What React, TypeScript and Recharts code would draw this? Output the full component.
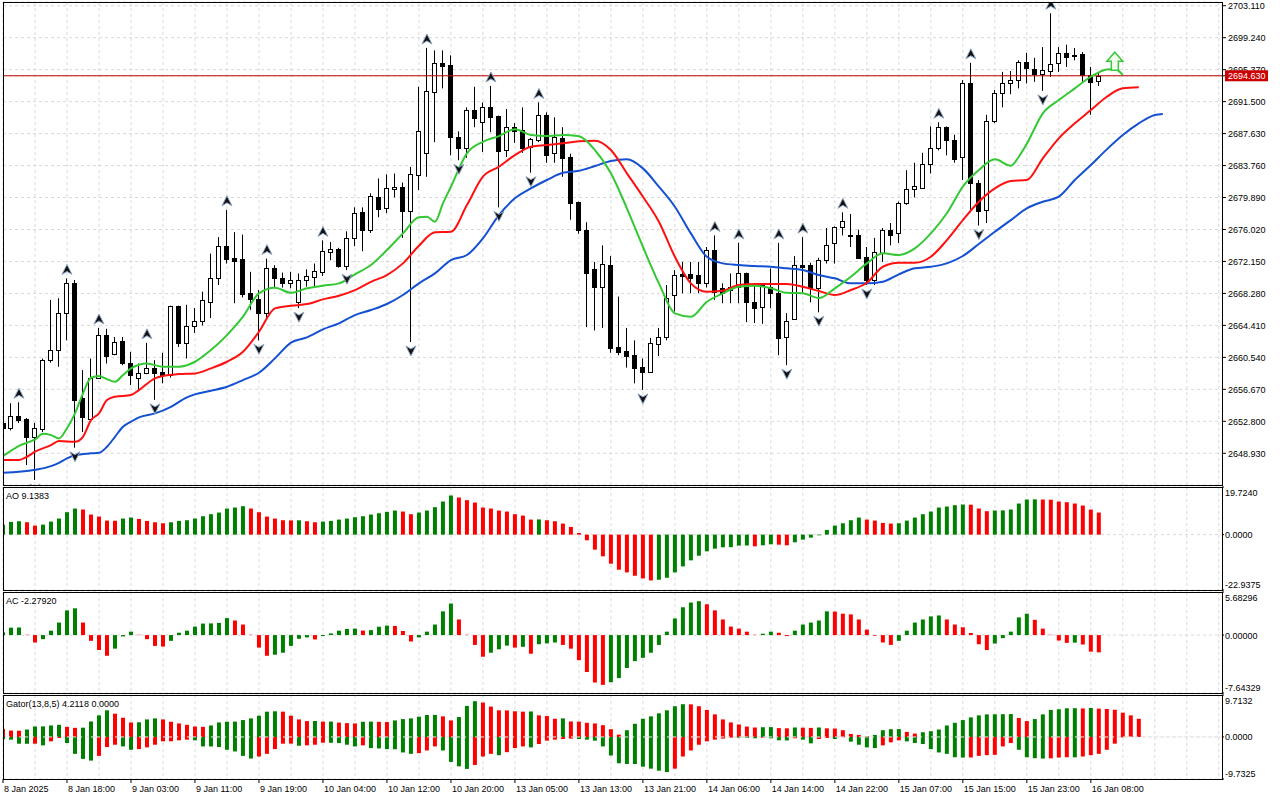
import React from "react";
import {
  ComposedChart,
  Bar,
  Line,
  Scatter,
  XAxis,
  YAxis,
  CartesianGrid,
  ReferenceLine,
  Cell,
} from "recharts";

// ---- price data (XAUUSD H1, 8 Jan 10:00 .. 16 Jan 09:00) ----
const OPEN = [
  2652.6, 2652.0, 2653.4, 2653.1, 2650.9, 2651.9, 2660.2, 2661.4, 2665.9, 2669.5,
  2655.6, 2653.1, 2658.1, 2663.3, 2660.9, 2662.5, 2659.8, 2658.1, 2658.6, 2659.2,
  2658.8, 2658.4, 2666.7, 2662.3, 2664.3, 2664.9, 2667.2, 2670.1, 2674.0, 2672.6,
  2672.4, 2668.3, 2667.6, 2665.9, 2671.3, 2670.1, 2669.5, 2667.2, 2669.9, 2670.3,
  2670.9, 2673.3, 2673.6, 2671.6, 2675.0, 2678.1, 2675.9, 2680.0, 2678.6, 2680.9,
  2681.2, 2678.2, 2682.6, 2685.3, 2692.7, 2696.2, 2695.9, 2687.2, 2685.9, 2690.5,
  2689.0, 2690.8, 2689.7, 2685.6, 2688.4, 2688.1, 2686.0, 2686.8, 2689.9, 2685.3,
  2687.1, 2684.8, 2679.3, 2675.9, 2671.2, 2669.0, 2671.7, 2661.8, 2661.3, 2660.8,
  2659.4, 2658.8, 2662.2, 2663.0, 2668.1, 2670.6, 2670.6, 2670.5, 2669.5, 2673.5,
  2668.9, 2669.0, 2669.1, 2670.7, 2667.2, 2666.6, 2669.1, 2668.3, 2663.0, 2665.2,
  2671.7, 2671.7, 2668.9, 2672.3, 2674.4, 2676.3, 2675.4, 2675.4, 2672.7, 2669.9,
  2673.2, 2675.9, 2675.6, 2679.2, 2680.9, 2681.1, 2683.9, 2685.9, 2688.4, 2686.8,
  2684.8, 2693.7, 2681.7, 2678.4, 2689.2, 2692.6, 2693.7, 2694.1, 2696.3, 2695.4,
  2694.9, 2695.2, 2696.2, 2697.4, 2697.0, 2697.3, 2694.7, 2694.0,
];
const HIGH = [
  2653.0, 2655.0, 2655.1, 2653.2, 2652.6, 2660.4, 2667.5, 2667.7, 2670.1, 2669.9,
  2659.0, 2660.4, 2664.1, 2664.0, 2663.0, 2663.0, 2661.2, 2659.8, 2662.3, 2660.2,
  2661.1, 2666.8, 2666.8, 2666.9, 2666.5, 2668.5, 2673.1, 2675.1, 2678.4, 2675.7,
  2675.4, 2670.9, 2668.7, 2672.5, 2671.7, 2670.8, 2670.9, 2670.7, 2671.2, 2671.9,
  2674.7, 2674.5, 2673.8, 2675.8, 2678.7, 2678.7, 2680.4, 2682.2, 2682.7, 2682.8,
  2681.7, 2683.6, 2693.3, 2698.0, 2697.7, 2697.7, 2697.1, 2687.9, 2690.8, 2693.3,
  2691.4, 2693.4, 2689.8, 2690.6, 2688.9, 2690.8, 2687.1, 2691.4, 2690.2, 2689.6,
  2688.4, 2685.2, 2679.4, 2676.9, 2672.1, 2674.1, 2672.8, 2667.9, 2664.1, 2662.6,
  2660.4, 2662.9, 2664.1, 2669.3, 2671.1, 2672.1, 2672.1, 2672.1, 2673.9, 2675.3,
  2669.5, 2670.7, 2674.4, 2670.8, 2669.5, 2669.5, 2671.3, 2674.4, 2665.9, 2672.8,
  2675.1, 2672.0, 2672.6, 2676.2, 2676.4, 2678.1, 2677.9, 2676.0, 2673.9, 2675.0,
  2676.2, 2676.8, 2679.4, 2683.2, 2684.1, 2685.3, 2688.5, 2689.0, 2688.5, 2687.5,
  2694.1, 2696.2, 2682.0, 2689.9, 2692.9, 2695.1, 2695.2, 2696.5, 2697.4, 2696.8,
  2698.1, 2702.2, 2698.1, 2698.4, 2698.0, 2697.5, 2695.7, 2695.1,
];
const LOW = [
  2651.5, 2651.7, 2652.6, 2647.5, 2645.7, 2651.5, 2659.9, 2659.4, 2662.6, 2649.6,
  2651.5, 2653.0, 2658.0, 2659.8, 2660.8, 2659.6, 2657.2, 2656.6, 2658.5, 2655.4,
  2657.4, 2658.1, 2661.8, 2660.4, 2663.5, 2664.4, 2665.3, 2669.3, 2671.9, 2667.1,
  2667.8, 2666.3, 2662.6, 2665.3, 2669.0, 2669.0, 2668.9, 2666.5, 2669.1, 2669.0,
  2670.4, 2672.3, 2671.4, 2671.1, 2674.0, 2673.4, 2675.6, 2677.5, 2678.0, 2679.9,
  2675.0, 2662.4, 2680.8, 2682.4, 2686.6, 2693.1, 2685.0, 2684.4, 2684.7, 2688.4,
  2685.4, 2687.8, 2678.7, 2684.8, 2686.5, 2685.3, 2682.9, 2686.6, 2684.1, 2684.1,
  2682.4, 2677.2, 2675.5, 2664.2, 2663.8, 2664.1, 2661.1, 2660.8, 2659.3, 2657.4,
  2656.6, 2658.7, 2660.7, 2662.6, 2666.1, 2668.3, 2668.3, 2668.3, 2669.0, 2667.5,
  2667.1, 2667.1, 2667.1, 2664.8, 2664.7, 2664.6, 2666.5, 2660.8, 2659.6, 2665.1,
  2668.4, 2667.2, 2666.0, 2671.9, 2671.9, 2675.3, 2673.9, 2672.5, 2669.3, 2669.3,
  2672.1, 2674.1, 2674.4, 2679.0, 2679.9, 2681.0, 2682.8, 2685.6, 2685.0, 2684.1,
  2682.0, 2678.1, 2676.5, 2676.8, 2688.9, 2690.8, 2692.4, 2693.1, 2693.7, 2693.9,
  2692.8, 2694.5, 2695.1, 2695.7, 2696.5, 2693.9, 2689.9, 2693.4,
];
const CLOSE = [
  2652.0, 2653.5, 2653.0, 2650.9, 2652.0, 2660.2, 2661.4, 2665.9, 2669.5, 2655.4,
  2653.3, 2658.1, 2663.2, 2660.7, 2662.4, 2659.8, 2658.4, 2658.7, 2659.2, 2658.7,
  2658.4, 2666.7, 2662.3, 2664.3, 2664.9, 2667.5, 2670.1, 2674.0, 2672.5, 2672.2,
  2668.2, 2667.6, 2665.9, 2671.3, 2670.1, 2669.5, 2669.9, 2669.9, 2670.4, 2671.0,
  2673.4, 2673.6, 2671.6, 2675.0, 2678.0, 2675.9, 2680.1, 2678.5, 2681.0, 2681.2,
  2678.2, 2682.7, 2688.0, 2692.8, 2696.2, 2695.8, 2687.2, 2685.9, 2690.5, 2689.5,
  2690.8, 2689.6, 2685.5, 2688.4, 2688.0, 2685.9, 2687.0, 2689.9, 2685.0, 2687.2,
  2684.7, 2679.2, 2675.9, 2670.8, 2669.0, 2671.8, 2661.7, 2661.2, 2660.7, 2659.2,
  2658.8, 2662.3, 2663.0, 2667.7, 2670.5, 2670.4, 2670.2, 2669.5, 2673.5, 2668.4,
  2668.3, 2668.7, 2670.7, 2667.2, 2666.5, 2669.3, 2668.3, 2662.9, 2665.0, 2671.7,
  2671.5, 2668.9, 2672.3, 2674.2, 2676.3, 2677.0, 2675.3, 2672.6, 2669.9, 2673.3,
  2675.9, 2675.3, 2679.2, 2680.9, 2681.3, 2683.9, 2685.9, 2688.4, 2686.9, 2684.5,
  2693.7, 2681.7, 2678.2, 2689.2, 2692.5, 2693.7, 2694.1, 2696.3, 2695.6, 2694.9,
  2695.3, 2696.1, 2697.4, 2696.9, 2697.2, 2694.7, 2693.9, 2694.63,
];

// Alligator lines: [bar, price]
const JAW: [number, number][] = [
  [0, 2646.57], [4, 2646.93], [6, 2647.38], [7, 2647.78], [8, 2648.31], [9, 2648.71],
  [11, 2648.92], [12, 2648.99], [13, 2649.72], [14, 2650.93], [15, 2652.14], [16, 2652.75],
  [17, 2653.28], [19, 2653.76], [21, 2654.56], [23, 2655.7], [24, 2656.06], [26, 2656.5],
  [28, 2656.98], [30, 2657.79], [32, 2658.68], [34, 2660.42], [36, 2662.33], [38, 2662.96],
  [40, 2663.93], [42, 2664.66], [44, 2665.66], [46, 2666.27], [48, 2667.0], [50, 2668.09],
  [52, 2669.5], [54, 2670.71], [56, 2672.32], [58, 2672.93], [60, 2674.95], [62, 2677.77],
  [64, 2679.79], [66, 2681.0], [68, 2682.01], [70, 2682.89], [72, 2683.12], [74, 2683.7],
  [76, 2684.31], [78, 2684.51], [80, 2683.42], [82, 2681.2], [84, 2678.78], [86, 2675.55],
  [88, 2672.72], [90, 2671.92], [92, 2671.72], [94, 2671.6], [96, 2671.51], [98, 2671.32],
  [100, 2671.11], [102, 2670.51], [104, 2670.11], [106, 2669.5], [108, 2669.5], [110, 2669.69],
  [112, 2670.59], [114, 2671.32], [116, 2671.51], [118, 2671.92], [120, 2672.81], [122, 2674.26],
  [124, 2675.75], [126, 2677.16], [128, 2678.58], [130, 2679.38], [132, 2679.99], [134, 2682.01],
  [136, 2683.82], [138, 2685.72], [140, 2687.46], [142, 2688.87], [144, 2689.88], [145, 2690.0],
];
const TEETH: [number, number][] = [
  [0, 2648.11], [2, 2648.11], [3, 2648.51], [4, 2649.12], [6, 2649.92], [7, 2650.41],
  [9, 2650.32], [10, 2650.93], [11, 2652.95], [12, 2653.76], [13, 2655.37], [14, 2655.77],
  [16, 2655.98], [17, 2656.58], [19, 2658.0], [20, 2658.28], [22, 2658.52], [24, 2658.6],
  [26, 2659.21], [28, 2660.01], [30, 2661.22], [32, 2663.64], [34, 2666.47], [36, 2666.79],
  [38, 2666.99], [40, 2667.56], [42, 2668.0], [44, 2668.69], [46, 2669.69], [48, 2670.51],
  [50, 2671.92], [52, 2674.05], [54, 2675.68], [56, 2675.75], [58, 2678.98], [60, 2682.41],
  [62, 2683.62], [64, 2685.03], [66, 2686.04], [68, 2686.24], [70, 2686.45], [72, 2686.69],
  [74, 2686.77], [76, 2685.64], [78, 2682.82], [80, 2679.99], [82, 2676.96], [84, 2672.72],
  [86, 2669.5], [88, 2668.48], [90, 2668.61], [92, 2669.3], [94, 2669.42], [96, 2669.42],
  [98, 2669.42], [100, 2669.09], [102, 2668.57], [104, 2668.08], [106, 2668.69], [108, 2669.57],
  [110, 2671.51], [112, 2671.99], [114, 2671.99], [116, 2672.72], [118, 2674.74], [120, 2677.16],
  [122, 2679.38], [124, 2681.0], [126, 2681.89], [128, 2682.01], [130, 2684.63], [132, 2687.06],
  [134, 2688.87], [136, 2690.48], [138, 2692.09], [140, 2693.11], [142, 2693.23],
];
const LIPS: [number, number][] = [
  [0, 2648.59], [2, 2649.84], [4, 2650.61], [5, 2651.29], [6, 2651.13], [7, 2650.73],
  [8, 2651.95], [9, 2653.76], [10, 2656.18], [11, 2658.07], [12, 2658.28], [13, 2657.91],
  [14, 2657.59], [15, 2658.4], [16, 2659.21], [18, 2659.81], [20, 2659.4], [22, 2659.4],
  [24, 2660.01], [26, 2661.43], [28, 2663.24], [30, 2665.46], [32, 2668.29], [34, 2668.97],
  [36, 2668.36], [38, 2668.9], [40, 2669.21], [42, 2669.5], [44, 2670.59], [46, 2671.72],
  [48, 2673.53], [50, 2675.55], [52, 2677.49], [53, 2677.56], [54, 2676.96], [55, 2679.19],
  [56, 2681.2], [58, 2685.24], [60, 2686.64], [62, 2687.33], [64, 2688.15], [66, 2687.46],
  [68, 2687.33], [70, 2687.46], [72, 2687.3], [74, 2685.64], [76, 2682.82], [78, 2678.58],
  [80, 2673.93], [82, 2669.5], [84, 2665.87], [86, 2665.46], [88, 2667.27], [90, 2668.29],
  [92, 2669.09], [94, 2669.21], [96, 2668.9], [98, 2668.36], [100, 2668.29], [102, 2667.72],
  [104, 2668.9], [106, 2670.3], [108, 2671.92], [110, 2673.13], [112, 2672.93], [114, 2673.74],
  [116, 2675.55], [118, 2677.98], [120, 2681.2], [122, 2683.22], [124, 2684.51], [126, 2683.74],
  [127, 2684.83], [128, 2686.4], [130, 2690.08], [132, 2691.69], [134, 2693.11], [136, 2694.51],
  [138, 2695.4], [139, 2695.45], [140, 2694.73],
];

const FRACTAL_UP_BARS = [2, 8, 12, 18, 28, 33, 40, 53, 61, 67, 89, 92, 97, 100, 105, 117, 121, 131];
const FRACTAL_DOWN_BARS = [4, 9, 19, 32, 37, 43, 51, 57, 62, 66, 80, 98, 102, 108, 122, 130];
const SIGNAL = { bar: 139, price: 2695.3 };

// ---- oscillators ----
const AO = [
  4.16, 5.26, 5.54, 5.12, 3.74, 4.16, 5.4, 6.65, 9.28, 10.8,
  10.39, 8.31, 7.48, 5.82, 5.75, 6.65, 7.06, 6.51, 5.68, 5.12,
  4.71, 5.12, 5.68, 5.96, 6.65, 7.62, 8.45, 9.14, 10.8, 11.22,
  11.77, 10.8, 9.28, 7.48, 6.65, 5.96, 5.89, 5.93, 5.54, 5.12,
  5.4, 5.68, 6.23, 6.65, 7.2, 7.62, 8.31, 8.86, 9.42, 9.97,
  9.56, 8.45, 9.14, 9.97, 11.36, 13.71, 16.2, 15.37, 14.27, 13.3,
  11.22, 10.8, 9.97, 9.56, 8.45, 7.89, 6.23, 6.3, 5.96, 5.54,
  4.57, 3.19, 0.69, -2.35, -6.23, -9.0, -12.05, -14.54, -15.65, -17.04,
  -18.14, -18.98, -18.7, -17.87, -15.65, -13.16, -10.66, -8.73, -6.93, -5.82,
  -5.26, -5.19, -4.57, -4.5, -4.85, -4.43, -4.02, -4.16, -4.43, -3.19,
  -2.08, -1.25, -0.28, 1.94, 3.74, 4.71, 5.96, 7.06, 6.23, 5.82,
  4.85, 4.57, 4.71, 5.82, 7.06, 8.45, 9.56, 11.22, 11.63, 12.19,
  12.47, 12.4, 10.8, 9.7, 9.97, 10.04, 10.39, 12.88, 14.54, 14.61,
  14.54, 14.47, 13.71, 13.43, 12.88, 12.05, 10.39, 9.1383,
];
const AC = [
  0.36, 0.98, 1.0, 0.04, -0.98, -0.54, 0.58, 1.65, 3.26, 3.53,
  1.65, -0.76, -1.97, -2.73, -1.79, -0.18, 0.45, 0.04, -0.54, -1.43,
  -1.52, -0.76, 0.31, 0.58, 1.12, 1.52, 1.54, 1.61, 2.24, 1.92,
  1.39, 0.04, -1.65, -2.73, -2.59, -2.33, -1.43, -0.49, -0.31, -0.58,
  -0.13, 0.22, 0.58, 0.8, 0.85, 0.6, 0.65, 1.1, 1.25, 1.2,
  0.54, -0.85, -0.31, 0.45, 1.39, 3.13, 4.16, 2.06, 0.04, -1.3,
  -2.86, -2.33, -1.88, -1.39, -1.65, -1.55, -2.46, -1.21, -1.1, -0.98,
  -1.3, -1.79, -3.31, -4.87, -6.26, -6.57, -6.22, -5.68, -4.34, -3.44,
  -3.0, -2.33, -1.3, 0.45, 2.19, 3.67, 4.29, 4.47, 4.07, 3.26,
  2.06, 1.12, 0.85, 0.45, 0.04, 0.18, 0.45, 0.31, -0.13, 0.58,
  1.39, 1.65, 1.92, 3.13, 3.1, 2.82, 2.73, 2.06, 0.72, -0.09,
  -0.98, -1.3, -0.76, 0.58, 1.65, 2.06, 2.46, 2.59, 2.06, 1.39,
  1.03, 0.27, -1.21, -1.97, -1.12, -0.4, 0.45, 2.33, 2.82, 2.01,
  0.85, 0.04, -0.72, -1.03, -1.0, -1.25, -2.19, -2.2792,
];
const GATOR_UP = [
  1.88, 1.48, 1.45, 1.72, 2.42, 2.45, 2.66, 2.81, 2.34, 2.11,
  2.15, 3.59, 5.0, 6.17, 5.39, 4.45, 3.36, 3.4, 4.06, 4.3,
  4.06, 3.52, 3.13, 2.81, 2.42, 2.34, 2.66, 3.36, 3.52, 3.55,
  3.91, 4.3, 4.92, 5.85, 5.94, 5.86, 4.92, 4.06, 3.67, 3.7,
  3.55, 3.56, 3.33, 3.2, 3.13, 3.52, 3.55, 3.5, 3.45, 3.83,
  4.14, 4.3, 4.69, 5.08, 5.1, 4.77, 3.83, 4.61, 7.19, 8.28,
  7.97, 7.03, 6.17, 6.15, 5.94, 5.86, 5.9, 5.0, 4.84, 4.22,
  4.3, 3.59, 3.55, 3.28, 3.13, 2.73, 1.8, 0.55, 1.56, 3.05,
  4.22, 4.77, 5.47, 6.17, 7.11, 7.58, 7.55, 7.11, 6.25, 5.23,
  4.06, 3.36, 2.89, 2.42, 2.19, 2.25, 2.28, 2.05, 2.0, 2.2,
  2.15, 2.1, 2.2, 2.0, 1.95, 1.56, 0.7, 0.47, 0.16, 0.47,
  1.56, 1.8, 1.82, 1.17, 0.78, 1.09, 1.33, 1.72, 2.66, 3.28,
  3.91, 4.53, 5.0, 5.23, 5.25, 5.27, 5.3, 4.38, 3.67, 4.14,
  5.23, 6.25, 6.41, 6.64, 6.66, 6.6, 6.7, 6.56, 6.48, 6.3,
  5.63, 5.0, 4.2118,
];
const GATOR_DOWN = [
  -0.55, -0.63, -1.56, -1.58, -1.56, -1.95, -1.02, -0.23, -1.41, -3.91,
  -5.08, -5.47, -4.38, -2.34, -1.8, -2.19, -2.97, -2.81, -2.42, -1.8,
  -1.02, -1.0, -0.78, -0.63, -0.78, -2.19, -2.2, -2.34, -2.97, -3.36,
  -4.38, -5.0, -4.53, -3.91, -2.81, -1.56, -1.55, -2.03, -1.95, -1.8,
  -1.33, -1.35, -1.41, -1.8, -2.19, -1.95, -2.58, -2.66, -2.81, -2.85,
  -3.59, -3.91, -3.75, -3.13, -2.19, -3.13, -5.78, -6.8, -7.4, -6.48,
  -4.53, -3.91, -4.22, -3.52, -2.58, -2.19, -2.42, -1.64, -0.86, -0.63,
  -0.47, -0.39, -0.47, -0.63, -0.86, -2.19, -4.3, -6.09, -6.25, -6.27,
  -6.88, -7.34, -7.81, -8.13, -7.34, -4.53, -3.13, -1.8, -1.02, -0.63,
  -0.39, -0.16, -0.17, -0.23, -0.31, -0.16, -0.31, -0.78, -0.8, -0.31,
  -0.63, -1.48, -0.47, -0.23, -0.47, -0.05, -1.09, -1.8, -2.42, -2.58,
  -1.95, -1.25, -0.78, -1.02, -1.41, -1.64, -2.81, -3.59, -3.91, -4.69,
  -4.77, -4.75, -4.38, -4.22, -4.14, -2.19, -1.41, -2.97, -4.69, -4.92,
  -5.0, -4.95, -4.77, -4.69, -4.72, -4.53, -4.22, -3.91, -2.97, -1.56,
  -0.08,
];

// ---- axes ----
const PRICE_TICKS = [
  2648.93, 2652.8, 2656.67, 2660.54, 2664.41, 2668.28, 2672.15, 2676.02,
  2679.89, 2683.76, 2687.63, 2691.5, 2695.37, 2699.24, 2703.11,
];
const PRICE_DOMAIN: [number, number] = [2645.09, 2703.56];
const AO_DOMAIN: [number, number] = [-22.9375, 19.724];
const AC_DOMAIN: [number, number] = [-7.64329, 5.68296];
const GATOR_DOMAIN: [number, number] = [-9.7325, 9.7132];
const X_TICKS = [0, 8, 16, 24, 32, 40, 48, 56, 64, 72, 80, 88, 96, 104, 112, 120, 128, 136];
const X_LABELS = [
  "8 Jan 2025", "8 Jan 18:00", "9 Jan 03:00", "9 Jan 11:00", "9 Jan 19:00",
  "10 Jan 04:00", "10 Jan 12:00", "10 Jan 20:00", "13 Jan 05:00", "13 Jan 13:00",
  "13 Jan 21:00", "14 Jan 06:00", "14 Jan 14:00", "14 Jan 22:00", "15 Jan 07:00",
  "15 Jan 15:00", "15 Jan 23:00", "16 Jan 08:00",
];

const LAST_PRICE = CLOSE[CLOSE.length - 1];
const X_DOMAIN: [number, number] = [0, 152.4];
const GRID_BARS = Array.from({ length: 39 }, (_, n) => n * 4);

const GREEN = "#008000";
const RED = "#ff0000";
const GRID = "#d9d9d9";
const FONT = "'Liberation Sans', Arial, sans-serif";

const candles = OPEN.map((o, i) => ({ i, o, h: HIGH[i], l: LOW[i], c: CLOSE[i] }));
const toPts = (arr: [number, number][]) => arr.map(([i, v]) => ({ i, v }));
const upFractals = FRACTAL_UP_BARS.map((i) => ({ i, v: HIGH[i] }));
const downFractals = FRACTAL_DOWN_BARS.map((i) => ({ i, v: LOW[i] }));

// vertical grid every 4 bars, placed through the x axis scale when available
const gridX = (props: any) => {
  const scale = props?.xAxis?.scale;
  const off = props?.offset;
  return GRID_BARS.map((k) => {
    if (typeof scale === "function") return scale(k);
    if (scale && typeof scale.map === "function") return scale.map(k);
    if (off) return off.left + ((k - X_DOMAIN[0]) / (X_DOMAIN[1] - X_DOMAIN[0])) * off.width;
    return 0;
  });
};

function Candle(props: any) {
  const { x, y, width, height, payload } = props;
  if (!payload || height == null || isNaN(y)) return null;
  const { o, h, l, c } = payload;
  const k = h - l > 0 ? height / (h - l) : 0;
  const py = (p: number) => y + (h - p) * k;
  const cx = Math.round(x + width / 2);
  const top = Math.round(py(Math.max(o, c)));
  const bot = Math.round(py(Math.min(o, c)));
  const bull = c >= o;
  return (
    <g>
      <line x1={cx + 0.5} x2={cx + 0.5} y1={y} y2={y + height} stroke="#000" strokeWidth={1} />
      <rect
        x={cx - 1.5}
        y={top + 0.5}
        width={4}
        height={Math.max(1, bot - top)}
        fill={bull ? "#fff" : "#000"}
        stroke="#000"
        strokeWidth={1}
      />
    </g>
  );
}

function UpFractal({ cx, cy }: any) {
  if (cx == null) return null;
  return (
    <polygon
      points={`${cx},${cy - 14} ${cx + 5},${cy - 4} ${cx},${cy - 7} ${cx - 5},${cy - 4}`}
      fill="#111"
      stroke="#8fa6c4"
      strokeWidth={1}
    />
  );
}

function DownFractal({ cx, cy }: any) {
  if (cx == null) return null;
  return (
    <polygon
      points={`${cx},${cy + 14} ${cx + 5},${cy + 4} ${cx},${cy + 7} ${cx - 5},${cy + 4}`}
      fill="#111"
      stroke="#8fa6c4"
      strokeWidth={1}
    />
  );
}

function SignalArrow({ cx, cy }: any) {
  if (cx == null) return null;
  const p = [
    [cx - 3.5, cy], [cx + 3.5, cy], [cx + 3.5, cy - 9], [cx + 8, cy - 9],
    [cx, cy - 18], [cx - 8, cy - 9], [cx - 3.5, cy - 9],
  ];
  return (
    <polygon
      points={p.map((q) => q.join(",")).join(" ")}
      fill="#f4fff0"
      stroke="#39c839"
      strokeWidth={1.5}
    />
  );
}

function PriceTick({ x, y, payload }: any) {
  const v = payload.value;
  if (v === LAST_PRICE) {
    return (
      <g>
        <rect x={x - 3} y={y - 5.5} width={43} height={11} fill="#cc0000" />
        <text x={x} y={y + 3.5} fontSize={9} fontFamily={FONT} fill="#fff">
          {v.toFixed(3)}
        </text>
      </g>
    );
  }
  return (
    <text x={x} y={y + 3.5} fontSize={9} fontFamily={FONT} fill="#000">
      {v.toFixed(3)}
    </text>
  );
}

function makeSubTick(domain: [number, number], digits: number) {
  return function SubTick({ x, y, payload }: any) {
    const v = payload.value;
    let dy = 3.5;
    if (v === domain[1]) dy = 9;
    if (v === domain[0]) dy = -2;
    return (
      <text x={x} y={y + dy} fontSize={9} fontFamily={FONT} fill="#000">
        {v.toFixed(digits)}
      </text>
    );
  };
}

function DateTick({ x, y, payload }: any) {
  const idx = X_TICKS.indexOf(payload.value);
  return (
    <text x={x + 1} y={y + 7} fontSize={9} fontFamily={FONT} fill="#000">
      {X_LABELS[idx] ?? ""}
    </text>
  );
}

const frame = (top: number, height: number): React.CSSProperties => ({
  position: "absolute",
  left: 3,
  top,
  width: 1220,
  height,
  border: "1px solid #000",
  boxSizing: "border-box",
  pointerEvents: "none",
});

const panelLabel = (top: number): React.CSSProperties => ({
  position: "absolute",
  left: 6,
  top,
  fontSize: 9,
  lineHeight: "11px",
  fontFamily: FONT,
  color: "#000",
  whiteSpace: "nowrap",
});

function Histogram({
  values,
  domain,
  digits,
  height,
}: {
  values: number[];
  domain: [number, number];
  digits: number;
  height: number;
}) {
  const data = values.map((v, i) => ({ i, v }));
  const Tick = makeSubTick(domain, digits);
  return (
    <ComposedChart width={1280} height={height} data={data} margin={{ top: 2, right: 0, bottom: 2, left: 3 }}>
      <CartesianGrid stroke={GRID} strokeDasharray="3 3" verticalCoordinatesGenerator={gridX} />
      <XAxis type="number" dataKey="i" domain={X_DOMAIN} allowDataOverflow hide />
      <YAxis
        orientation="right"
        width={58}
        type="number"
        domain={domain}
        allowDataOverflow
        ticks={[domain[1], 0, domain[0]]}
        interval={0}
        axisLine={false}
        tickLine={{ stroke: "#000" }}
        tickSize={2}
        tickMargin={1}
        tick={<Tick />}
      />
      <Bar dataKey="v" barSize={4} isAnimationActive={false}>
        {data.map((d, i) => (
          <Cell key={i} fill={i === 0 || d.v > values[i - 1] ? GREEN : RED} />
        ))}
      </Bar>
    </ComposedChart>
  );
}

function GatorPanel() {
  const data = GATOR_UP.map((u, i) => ({
    i,
    up: u,
    down: i < GATOR_DOWN.length ? GATOR_DOWN[i] : undefined,
  }));
  const Tick = makeSubTick(GATOR_DOMAIN, 4);
  return (
    <ComposedChart
      width={1280}
      height={107}
      data={data}
      stackOffset="sign"
      margin={{ top: 2, right: 0, bottom: 0, left: 3 }}
    >
      <CartesianGrid stroke={GRID} strokeDasharray="3 3" verticalCoordinatesGenerator={gridX} />
      <XAxis
        type="number"
        dataKey="i"
        domain={X_DOMAIN}
        allowDataOverflow
        ticks={X_TICKS}
        interval={0}
        height={21}
        axisLine={false}
        tickLine={{ stroke: "#000" }}
        tickSize={4}
        tickMargin={2}
        tick={<DateTick />}
      />
      <YAxis
        orientation="right"
        width={58}
        type="number"
        domain={GATOR_DOMAIN}
        allowDataOverflow
        ticks={[GATOR_DOMAIN[1], 0, GATOR_DOMAIN[0]]}
        interval={0}
        axisLine={false}
        tickLine={{ stroke: "#000" }}
        tickSize={2}
        tickMargin={1}
        tick={<Tick />}
      />
      <Bar dataKey="up" stackId="g" barSize={4} isAnimationActive={false}>
        {data.map((d, i) => (
          <Cell key={i} fill={i === 0 || d.up < GATOR_UP[i - 1] ? RED : GREEN} />
        ))}
      </Bar>
      <Bar dataKey="down" stackId="g" barSize={4} isAnimationActive={false}>
        {data.map((d, i) => (
          <Cell
            key={i}
            fill={i > 0 && d.down != null && Math.abs(d.down) < Math.abs(GATOR_DOWN[i - 1]) ? RED : GREEN}
          />
        ))}
      </Bar>
      <ReferenceLine y={0} stroke="#e8e8e8" strokeDasharray="3 3" />
    </ComposedChart>
  );
}

export default function App() {
  return (
    <div
      style={{
        position: "absolute",
        left: 0,
        top: 0,
        width: 1280,
        height: 800,
        background: "#fff",
        overflow: "hidden",
        fontFamily: FONT,
      }}
    >
      <div style={{ position: "absolute", left: 0, top: 0 }}>
        <ComposedChart width={1280} height={487} data={candles} margin={{ top: 2, right: 0, bottom: 2, left: 3 }}>
          <CartesianGrid stroke={GRID} strokeDasharray="3 3" verticalCoordinatesGenerator={gridX} />
          <XAxis type="number" dataKey="i" domain={X_DOMAIN} allowDataOverflow hide />
          <YAxis
            orientation="right"
            width={58}
            type="number"
            dataKey="v"
            domain={PRICE_DOMAIN}
            allowDataOverflow
            ticks={[...PRICE_TICKS, LAST_PRICE]}
            interval={0}
            axisLine={false}
            tickLine={{ stroke: "#000" }}
            tickSize={4}
            tickMargin={2}
            tick={<PriceTick />}
          />
          <ReferenceLine y={LAST_PRICE} stroke="#c00000" strokeWidth={1} />
          <Bar
            dataKey={(d: any) => [d.l, d.h]}
            barSize={5}
            isAnimationActive={false}
            shape={(p: any) => <Candle {...p} />}
          />
          <Line data={toPts(JAW)} dataKey="v" type="monotone" stroke="#1450d2" strokeWidth={2} dot={false} isAnimationActive={false} />
          <Line data={toPts(TEETH)} dataKey="v" type="monotone" stroke="#ff1010" strokeWidth={2} dot={false} isAnimationActive={false} />
          <Line data={toPts(LIPS)} dataKey="v" type="monotone" stroke="#34c834" strokeWidth={2} dot={false} isAnimationActive={false} />
          <Scatter data={upFractals} dataKey="v" isAnimationActive={false} shape={(p: any) => <UpFractal {...p} />} />
          <Scatter data={downFractals} dataKey="v" isAnimationActive={false} shape={(p: any) => <DownFractal {...p} />} />
          <Scatter
            data={[{ i: SIGNAL.bar, v: SIGNAL.price }]}
            dataKey="v"
            isAnimationActive={false}
            shape={(p: any) => <SignalArrow {...p} />}
          />
        </ComposedChart>
      </div>
      <div style={{ position: "absolute", left: 0, top: 485 }}>
        <Histogram values={AO} domain={AO_DOMAIN} digits={4} height={107} />
      </div>
      <div style={{ position: "absolute", left: 0, top: 590 }}>
        <Histogram values={AC} domain={AC_DOMAIN} digits={5} height={105} />
      </div>
      <div style={{ position: "absolute", left: 0, top: 693 }}>
        <GatorPanel />
      </div>

      <div style={frame(2, 484)} />
      <div style={frame(487, 104)} />
      <div style={frame(592, 102)} />
      <div style={frame(695, 85)} />

      <div style={panelLabel(491)}>AO 9.1383</div>
      <div style={panelLabel(596)}>AC -2.27920</div>
      <div style={panelLabel(699)}>Gator(13,8,5) 4.2118 0.0000</div>
    </div>
  );
}
